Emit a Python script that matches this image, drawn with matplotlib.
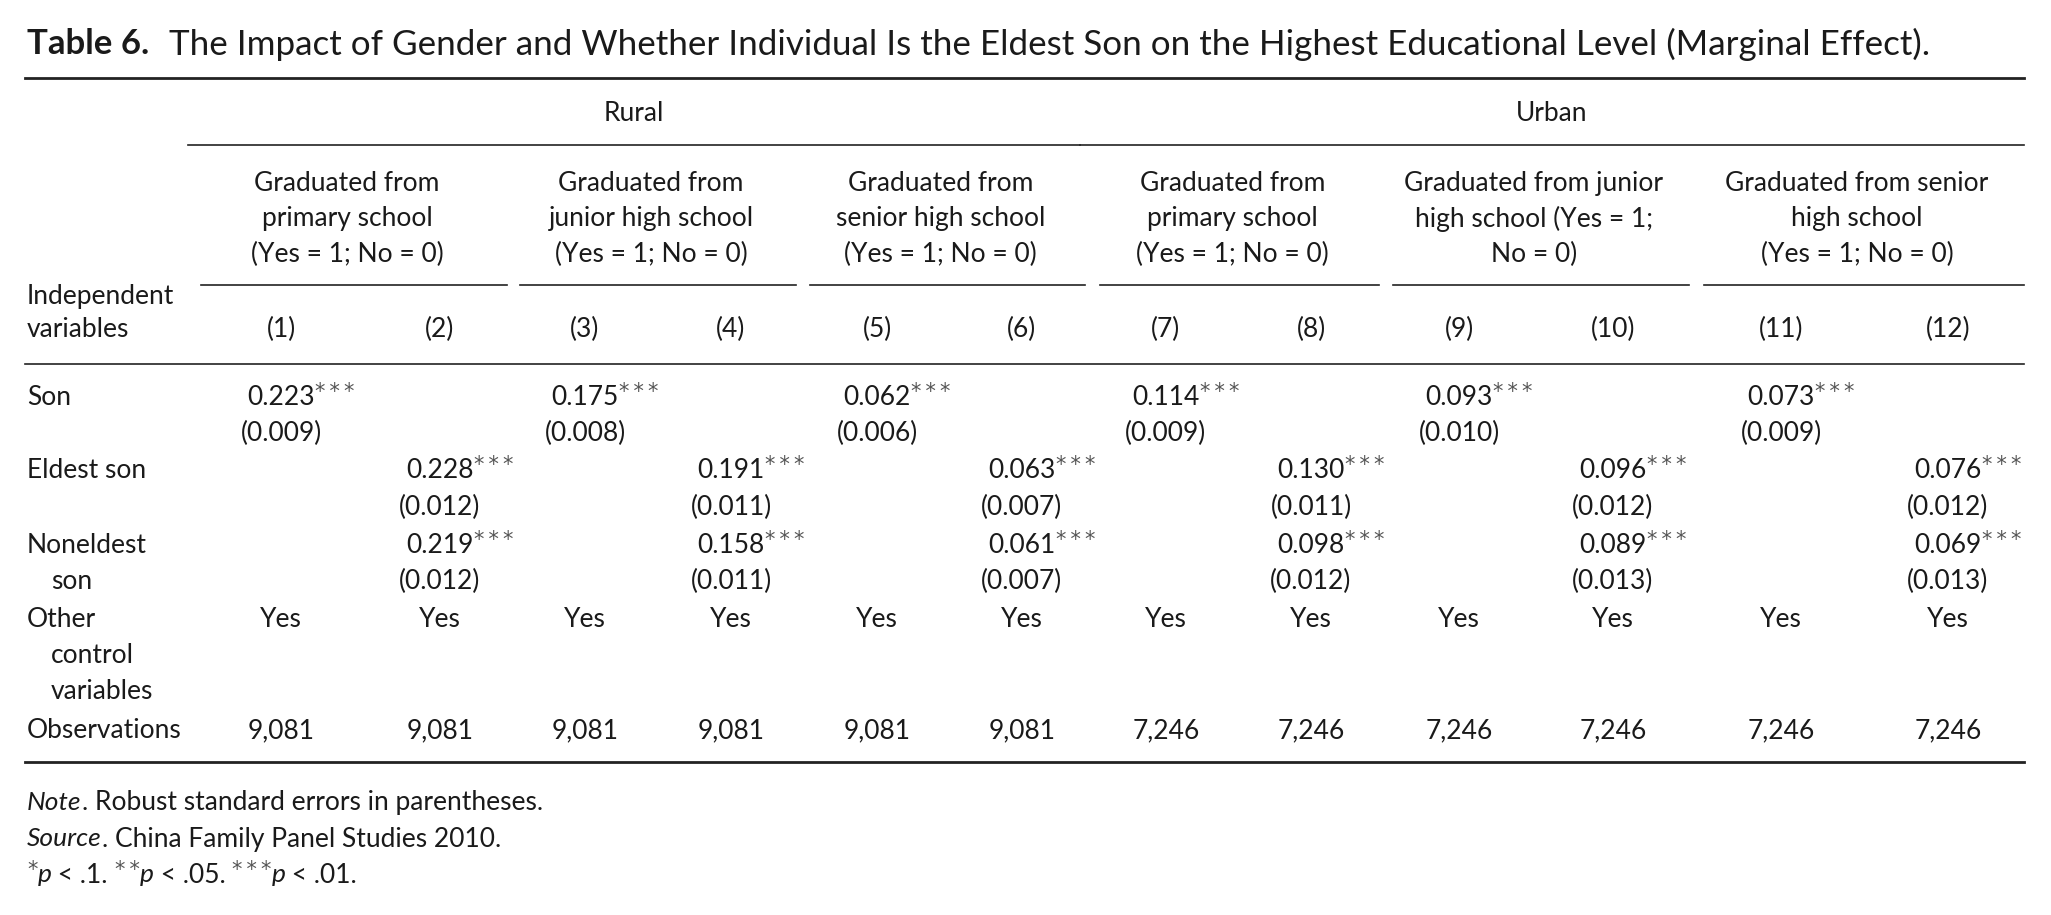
import matplotlib.pyplot as plt

plt.rcParams['font.family'] = ['Lato', 'DejaVu Sans']

# ---- data ----
title_bold = 'Table 6.'
title_rest = ('The Impact of Gender and Whether Individual Is the Eldest Son '
              'on the Highest Educational Level (Marginal Effect).')
areas = ['Rural', 'Urban']
groups = ['Graduated from\nprimary school\n(Yes = 1; No = 0)',
          'Graduated from\njunior high school\n(Yes = 1; No = 0)',
          'Graduated from\nsenior high school\n(Yes = 1; No = 0)',
          'Graduated from\nprimary school\n(Yes = 1; No = 0)',
          'Graduated from junior\nhigh school (Yes = 1;\nNo = 0)',
          'Graduated from senior\nhigh school\n(Yes = 1; No = 0)']
models = ['(1)', '(2)', '(3)', '(4)', '(5)', '(6)',
          '(7)', '(8)', '(9)', '(10)', '(11)', '(12)']
son_coef = ['0.223', '0.175', '0.062', '0.114', '0.093', '0.073']
son_se = ['0.009', '0.008', '0.006', '0.009', '0.010', '0.009']
eldest_coef = ['0.228', '0.191', '0.063', '0.130', '0.096', '0.076']
eldest_se = ['0.012', '0.011', '0.007', '0.011', '0.012', '0.012']
noneldest_coef = ['0.219', '0.158', '0.061', '0.098', '0.089', '0.069']
noneldest_se = ['0.012', '0.011', '0.007', '0.012', '0.013', '0.013']
stars = '***'
controls = ['Yes'] * 12
observations = ['9,081', '9,081', '9,081', '9,081', '9,081', '9,081',
                '7,246', '7,246', '7,246', '7,246', '7,246', '7,246']
row_labels = [['Son'], ['Eldest son'], ['Noneldest', 'son'],
              ['Other', 'control', 'variables'], ['Observations']]

# ---- layout (pixels) ----
col_x = [281, 440, 585, 731, 877, 1022, 1166, 1311, 1459, 1613, 1781, 1948]
group_lines = [(201, 507), (520, 796), (810, 1085), (1100, 1379),
               (1393, 1689), (1704, 2024)]
row_y = [395, 468, 543, 617, 728]
left, right = 25, 2024
ink = '#1a1a1a'
rule = '#222222'
star_ink = '#555555'
fs = 19
star_fs = 15

fig = plt.figure(figsize=(20.51, 9.15), dpi=100)
ax = fig.add_axes([0, 0, 1, 1])
ax.set_xlim(0, 2051)
ax.set_ylim(915, 0)
ax.axis('off')


def txt(x, y, s, ha='center', **kw):
    return ax.text(x, y, s, ha=ha, va='center_baseline', fontsize=fs,
                   color=ink, **kw)


def lines(x, y, s, step, ha='center'):
    for i, part in enumerate(s.split('\n')):
        txt(x, y + i * step, part, ha=ha)


def after(prev, s, y, **kw):
    # text that continues on the same baseline right after prev
    return ax.annotate(s, xy=(1, y), xycoords=(prev, 'data'), ha='left',
                       va='center_baseline', fontsize=fs, color=ink, **kw)


def sup(prev, s, fx=1):
    s = '\u2009'.join(s)
    return ax.annotate(s, xy=(fx, 1.12), xycoords=prev, ha='left', va='top',
                       fontsize=star_fs, color=star_ink,
                       family='DejaVu Sans')


def coef(x, y, s):
    sup(txt(x, y, s), stars)


# title
t = ax.text(27, 41, title_bold, ha='left', va='center_baseline',
            fontsize=25, fontweight='bold', color=ink)
ax.annotate(title_rest, xy=(1, 41), xycoords=(t, 'data'), xytext=(14, 0),
            textcoords='offset points', ha='left', va='center_baseline',
            fontsize=25.2, color=ink)

# rules
ax.plot([left, right], [78, 78], color=rule, lw=2.0)
ax.plot([left, right], [762, 762], color=rule, lw=2.0)
ax.plot([left, right], [364, 364], color=rule, lw=1.2)
ax.plot([188, 1080], [145, 145], color=rule, lw=1.2)
ax.plot([1080, right], [145, 145], color=rule, lw=1.2)
for x0, x1 in group_lines:
    ax.plot([x0, x1], [285, 285], color=rule, lw=1.2)

# spanners
txt(634, 111, areas[0])
txt(1552, 111, areas[1])
for (x0, x1), g in zip(group_lines, groups):
    lines((x0 + x1) / 2 - 7, 181, g, 35.3)

lines(27, 294, 'Independent\nvariables', 33, ha='left')
for x, m in zip(col_x, models):
    txt(x, 327, m)

# row labels
for lab, y in zip(row_labels, row_y):
    for i, part in enumerate(lab):
        txt(27 if i == 0 else 51, y + i * 36, part, ha='left')

# body
for i in range(6):
    xo, xe = col_x[2 * i], col_x[2 * i + 1]
    coef(xo, row_y[0], son_coef[i])
    txt(xo, row_y[0] + 36, '(' + son_se[i] + ')')
    coef(xe, row_y[1], eldest_coef[i])
    txt(xe, row_y[1] + 37, '(' + eldest_se[i] + ')')
    coef(xe, row_y[2], noneldest_coef[i])
    txt(xe, row_y[2] + 36, '(' + noneldest_se[i] + ')')
for x, c, o in zip(col_x, controls, observations):
    txt(x, row_y[3], c)
    txt(x, row_y[4], o)

# notes
n = txt(27, 800, 'Note', ha='left', style='italic')
after(n, '. Robust standard errors in parentheses.', 800)
s = txt(27, 837, 'Source', ha='left', style='italic')
after(s, '. China Family Panel Studies 2010.', 837)

yb = 873
dummy = txt(27, yb, 'p', ha='left', alpha=0)
prev = sup(dummy, '*', fx=0)
prev = after(prev, 'p', yb, style='italic')
prev = after(prev, ' < .1. ', yb)
prev = sup(prev, '**')
prev = after(prev, 'p', yb, style='italic')
prev = after(prev, ' < .05. ', yb)
prev = sup(prev, '***')
prev = after(prev, 'p', yb, style='italic')
prev = after(prev, ' < .01.', yb)

fig.savefig('out.png', dpi=100)
